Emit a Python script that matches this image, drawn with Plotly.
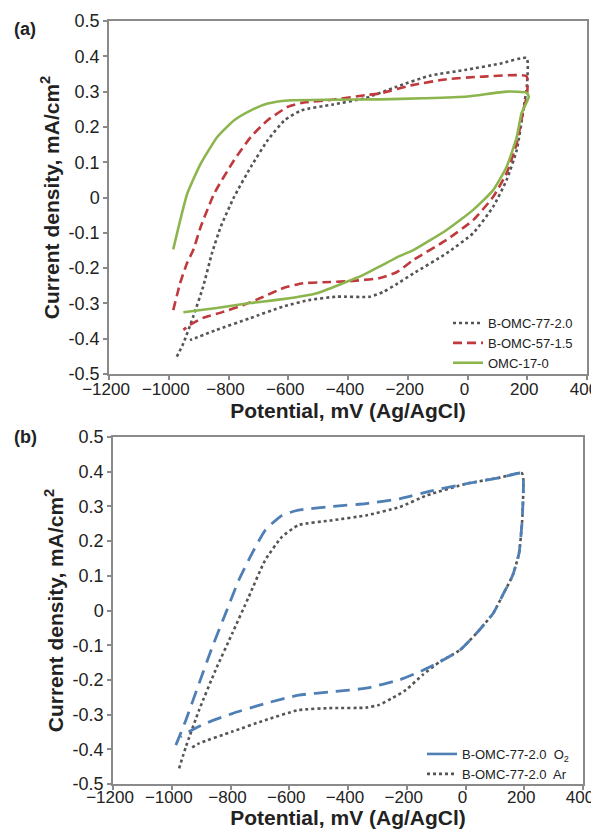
import plotly.graph_objects as go

# ---------- Panel (a) data ----------
a77_x = [-973, -951, -918, -885, -855, -826, -781, -725, -669, -612, -556, -453, -340, -237, -126, -3, 108, 198,
         199, 187, 165, 131, 86, 19, -70, -181, -233, -283, -326, -437, -527, -618, -728, -840, -929]
a77_y = [-0.451, -0.413, -0.337, -0.253, -0.157, -0.083, 0.002, 0.087, 0.162, 0.219, 0.247, 0.263, 0.282, 0.314, 0.345, 0.362, 0.379, 0.395,
         0.320, 0.248, 0.135, 0.050, -0.026, -0.101, -0.158, -0.215, -0.243, -0.268, -0.281, -0.281, -0.290, -0.309, -0.342, -0.375, -0.404]

a57_x = [-985, -962, -939, -918, -893, -848, -781, -725, -669, -601, -556, -453, -340, -293, -181, -70, 42, 198,
         199, 187, 165, 131, 86, 19, -70, -181, -236, -293, -393, -484, -551, -618, -685, -751, -818, -885, -929, -951]
a57_y = [-0.319, -0.243, -0.186, -0.149, -0.083, 0.011, 0.106, 0.172, 0.219, 0.257, 0.268, 0.277, 0.290, 0.295, 0.319, 0.335, 0.342, 0.343,
         0.290, 0.248, 0.154, 0.069, 0.002, -0.064, -0.120, -0.177, -0.211, -0.228, -0.237, -0.240, -0.243, -0.257, -0.282, -0.305, -0.324, -0.341, -0.361, -0.375]

a17_x = [-985, -938, -893, -837, -781, -725, -669, -601, -450, -293, -150, 0, 131, 198, 205,
         181, 165, 131, 86, 19, -70, -181, -233, -293, -350, -417, -504, -618, -728, -839, -951]
a17_y = [-0.147, 0.011, 0.096, 0.172, 0.219, 0.247, 0.266, 0.275, 0.277, 0.278, 0.281, 0.286, 0.300, 0.297, 0.285,
         0.239, 0.172, 0.087, 0.021, -0.035, -0.092, -0.149, -0.168, -0.195, -0.220, -0.243, -0.271, -0.288, -0.299, -0.313, -0.325]

# ---------- Panel (b) data ----------
bO2_x = [-986, -952, -907, -862, -817, -772, -727, -682, -625, -569, -454, -339, -225, -109, 6, 118, 192,
         197, 193, 182, 160, 130, 95, 38, -19, -88, -157, -225, -339, -454, -568, -682, -794, -884, -941, -969]
bO2_y = [-0.388, -0.316, -0.210, -0.105, -0.009, 0.087, 0.164, 0.231, 0.274, 0.289, 0.300, 0.308, 0.322, 0.346, 0.366, 0.383, 0.396,
         0.375, 0.260, 0.164, 0.100, 0.050, -0.007, -0.065, -0.114, -0.148, -0.177, -0.200, -0.224, -0.234, -0.244, -0.268, -0.297, -0.325, -0.349, -0.364]

bAr_x = [-975, -952, -907, -851, -794, -738, -682, -625, -569, -454, -339, -225, -131, 6, 118, 192,
         197, 193, 182, 160, 130, 95, 38, -19, -88, -145, -203, -248, -294, -339, -454, -568, -682, -794, -907, -935]
bAr_y = [-0.455, -0.393, -0.287, -0.172, -0.066, 0.039, 0.145, 0.212, 0.246, 0.260, 0.274, 0.298, 0.332, 0.366, 0.383, 0.396,
         0.375, 0.260, 0.164, 0.100, 0.050, -0.007, -0.065, -0.114, -0.148, -0.185, -0.229, -0.252, -0.272, -0.280, -0.281, -0.287, -0.316, -0.349, -0.383, -0.397]

x_ticks = [-1200, -1000, -800, -600, -400, -200, 0, 200, 400]
y_ticks = [-0.5, -0.4, -0.3, -0.2, -0.1, 0, 0.1, 0.2, 0.3, 0.4, 0.5]
y_ticktext = ["-0.5", "-0.4", "-0.3", "-0.2", "-0.1", "0", "0.1", "0.2", "0.3", "0.4", "0.5"]

GRAY = "#555555"
RED = "#c0393d"
GREEN = "#8cb54e"
BLUE = "#4f7fb5"
FONT = "Liberation Sans, Arial, sans-serif"
SM = 0.5

# page is offset by the default 8px body margin
W, H, OFF = 591, 821, 8


def dx(p0, p1):
    return [(p0 - OFF) / W, (p1 - OFF) / W]


def dy(top, bottom):
    return [1 - (bottom - OFF) / H, 1 - (top - OFF) / H]


fig = go.Figure()

fig.add_trace(go.Scatter(x=a77_x, y=a77_y, mode="lines", name="B-OMC-77-2.0",
                         line=dict(color=GRAY, width=2.6, dash="dot", shape="spline", smoothing=SM),
                         xaxis="x", yaxis="y", legend="legend"))
fig.add_trace(go.Scatter(x=a57_x, y=a57_y, mode="lines", name="B-OMC-57-1.5",
                         line=dict(color=RED, width=2.6, dash="9px,5px", shape="spline", smoothing=SM),
                         xaxis="x", yaxis="y", legend="legend"))
fig.add_trace(go.Scatter(x=a17_x, y=a17_y, mode="lines", name="OMC-17-0",
                         line=dict(color=GREEN, width=2.6, shape="spline", smoothing=SM),
                         xaxis="x", yaxis="y", legend="legend"))

fig.add_trace(go.Scatter(x=bAr_x, y=bAr_y, mode="lines", showlegend=False,
                         line=dict(color=GRAY, width=2.6, dash="dot", shape="spline", smoothing=SM),
                         xaxis="x2", yaxis="y2"))
fig.add_trace(go.Scatter(x=bO2_x, y=bO2_y, mode="lines", showlegend=False,
                         line=dict(color=BLUE, width=2.8, dash="14px,8px", shape="spline", smoothing=SM),
                         xaxis="x2", yaxis="y2"))
# legend entries for panel (b)
fig.add_trace(go.Scatter(x=[None], y=[None], mode="lines", name="B-OMC-77-2.0  O<sub>2</sub>",
                         line=dict(color=BLUE, width=2.6), xaxis="x2", yaxis="y2", legend="legend2"))
fig.add_trace(go.Scatter(x=[None], y=[None], mode="lines", name="B-OMC-77-2.0  Ar",
                         line=dict(color=GRAY, width=2.6, dash="dot"), xaxis="x2", yaxis="y2", legend="legend2"))

axis_common = dict(showgrid=False, zeroline=False, showline=True, linecolor="#8a8a8a", linewidth=1.5,
                   mirror=True, ticks="outside", ticklen=4, tickcolor="#8a8a8a", tickwidth=1.5, automargin=False,
                   ticklabeloverflow="allow")
yfont = dict(family=FONT, size=18, color="#222222")
xfont = dict(family=FONT, size=17, color="#222222")
xtitle = dict(text="<b>Potential, mV (Ag/AgCl)</b>", font=dict(family=FONT, size=21, color="#222222"), standoff=0)
ytitle = dict(text="<b>Current density, mA/cm<sup>2</sup></b>", font=dict(family=FONT, size=21, color="#222222"), standoff=3)

fig.update_layout(
    width=W, height=H,
    margin=dict(l=0, r=0, t=0, b=0),
    paper_bgcolor="white", plot_bgcolor="white",
    xaxis=dict(domain=dx(109, 587), range=[-1200, 400], tickvals=x_ticks, anchor="y", title=xtitle,
               tickfont=xfont, ticklabelstandoff=-5, ticklabelshift=-3, **axis_common),
    yaxis=dict(domain=dy(21, 374), range=[-0.5, 0.5], tickvals=y_ticks, ticktext=y_ticktext, anchor="x", title=ytitle,
               tickfont=yfont, **axis_common),
    xaxis2=dict(domain=dx(113, 583), range=[-1200, 400], tickvals=x_ticks, anchor="y2", title=xtitle,
                tickfont=xfont, ticklabelstandoff=-7, ticklabelshift=-3, **axis_common),
    yaxis2=dict(domain=dy(437, 784), range=[-0.5, 0.5], tickvals=y_ticks, ticktext=y_ticktext, anchor="x2", title=ytitle,
                tickfont=yfont, **axis_common),
    legend=dict(x=(578 - OFF) / W, y=1 - (378 - OFF) / H, xanchor="right", yanchor="bottom", bgcolor="rgba(0,0,0,0)",
                font=dict(family=FONT, size=13, color="#222222"), tracegroupgap=0, itemwidth=30),
    legend2=dict(x=(574 - OFF) / W, y=1 - (789 - OFF) / H, xanchor="right", yanchor="bottom", bgcolor="rgba(0,0,0,0)",
                 font=dict(family=FONT, size=13, color="#222222"), tracegroupgap=0, itemwidth=30),
    annotations=[
        dict(text="<b>(a)</b>", x=(12 - OFF) / W, y=1 - (29 - OFF) / H, xref="paper", yref="paper", showarrow=False,
             xanchor="left", yanchor="middle", font=dict(family=FONT, size=18, color="#222222")),
        dict(text="<b>(b)</b>", x=(12 - OFF) / W, y=1 - (437 - OFF) / H, xref="paper", yref="paper", showarrow=False,
             xanchor="left", yanchor="middle", font=dict(family=FONT, size=18, color="#222222")),
    ],
)

fig.write_html("out.html")
